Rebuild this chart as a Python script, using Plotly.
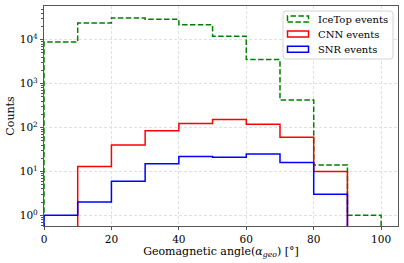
import plotly.graph_objects as go

bin_edges = [0, 10, 20, 30, 40, 50, 60, 70, 80, 90, 100]
icetop_counts = [8900, 24000, 31500, 29500, 21900, 12100, 3570, 423, 14, 1]
cnn_counts = [0, 13, 40, 84, 123, 153, 119, 60, 10, 0]
snr_counts = [1, 2, 6, 15, 22, 21, 25, 16, 3, 0]

series_names = ["IceTop events", "CNN events", "SNR events"]
series_colors = ["green", "red", "blue"]
series_dash = ["5.5px,2.4px", "solid", "solid"]

x_tick_vals = [0, 20, 40, 60, 80, 100]
y_tick_vals = [1, 10, 100, 1000, 10000]
y_tick_text = ["10<sup>0</sup>", "10<sup>1</sup>", "10<sup>2</sup>",
               "10<sup>3</sup>", "10<sup>4</sup>"]
y_minor_vals = [m * 10 ** e for e in range(-1, 5) for m in range(2, 10)]

FLOOR = 1e-3  # below visible range: lets step outline drop to the axis

# figure geometry (px)
W, H = 404, 263
ML, MR, MT, MB = 44, 6, 6, 37
PW, PH = W - ML - MR, H - MT - MB


def px_to_paper(px, py):
    return (px - ML) / PW, (H - MB - py) / PH


def step_xy(edges, counts):
    ys = [c if c > 0 else FLOOR for c in counts]
    x = [edges[0]] + edges[:-1] + [edges[-1]]
    y = [FLOOR] + ys + [FLOOR]
    return x, y


fig = go.Figure()
for name, counts, color, dash in zip(series_names,
                                     [icetop_counts, cnn_counts, snr_counts],
                                     series_colors, series_dash):
    x, y = step_xy(bin_edges, counts)
    fig.add_trace(go.Scatter(
        x=x, y=y, mode="lines", name=name, showlegend=False,
        line=dict(color=color, width=1.5, dash=dash, shape="hv"),
    ))

font_family = "DejaVu Serif"

# matplotlib-style legend: rounded frame, rectangle patches, text labels
box_l, box_r, box_t, box_b, rad = 283, 393, 11, 59, 3
pts = lambda px, py: "%.5f,%.5f" % px_to_paper(px, py)
box_path = (
    "M " + pts(box_l + rad, box_t) + " L " + pts(box_r - rad, box_t)
    + " Q " + pts(box_r, box_t) + " " + pts(box_r, box_t + rad)
    + " L " + pts(box_r, box_b - rad)
    + " Q " + pts(box_r, box_b) + " " + pts(box_r - rad, box_b)
    + " L " + pts(box_l + rad, box_b)
    + " Q " + pts(box_l, box_b) + " " + pts(box_l, box_b - rad)
    + " L " + pts(box_l, box_t + rad)
    + " Q " + pts(box_l, box_t) + " " + pts(box_l + rad, box_t) + " Z"
)
shapes = [dict(type="path", xref="paper", yref="paper", path=box_path,
               fillcolor="rgba(255,255,255,0.85)",
               line=dict(color="#d4d4d4", width=1))]
annotations = []
row_y = [19, 34, 49.3]
for name, color, dash, ry in zip(series_names, series_colors, series_dash, row_y):
    x0, y0 = px_to_paper(287.5, ry - 3)
    x1, y1 = px_to_paper(308.5, ry + 3)
    shapes.append(dict(type="rect", xref="paper", yref="paper",
                       x0=x0, x1=x1, y0=y1, y1=y0,
                       line=dict(color=color, width=1.5, dash=dash),
                       fillcolor="rgba(0,0,0,0)"))
    tx, ty = px_to_paper(315.5, ry)
    annotations.append(dict(x=tx, y=ty, xref="paper", yref="paper",
                            text=name, showarrow=False, xanchor="left",
                            yanchor="middle",
                            font=dict(family=font_family, size=10,
                                      color="black")))

grid_style = dict(showgrid=True, gridcolor="#e0e0e0", griddash="3px,2px",
                  gridwidth=0.7)
frame_style = dict(showline=True, linecolor="#555555", linewidth=1.2,
                   mirror=True, ticks="outside", ticklen=3,
                   tickcolor="#555555", zeroline=False, automargin=False)

fig.update_layout(
    width=W, height=H,
    margin=dict(l=ML, r=MR, t=MT, b=MB, autoexpand=False),
    paper_bgcolor="white", plot_bgcolor="white",
    font=dict(family=font_family, size=11, color="black"),
    showlegend=False,
    shapes=shapes, annotations=annotations,
)
fig.update_xaxes(
    range=[0, 105], tickvals=x_tick_vals,
    **grid_style, **frame_style,
    title=dict(text="Geomagnetic angle(<i>α</i><sub><i>geo</i></sub>) [°]",
               font=dict(size=11), standoff=3),
    tickfont=dict(size=10.5),
)
fig.update_yaxes(
    type="log", range=[-0.244, 4.77],
    tickvals=y_tick_vals, ticktext=y_tick_text,
    **grid_style, **frame_style,
    minor=dict(ticks="outside", ticklen=2, tickcolor="#555555",
               tickvals=y_minor_vals, showgrid=False),
    title=dict(text="Counts", font=dict(size=11), standoff=2),
    tickfont=dict(size=10.5),
)
fig.write_html(
    "out.html",
    config={"displayModeBar": False},
    post_script="document.body.style.margin='0';document.body.style.padding='0';"
                "document.body.style.overflow='hidden';",
)
